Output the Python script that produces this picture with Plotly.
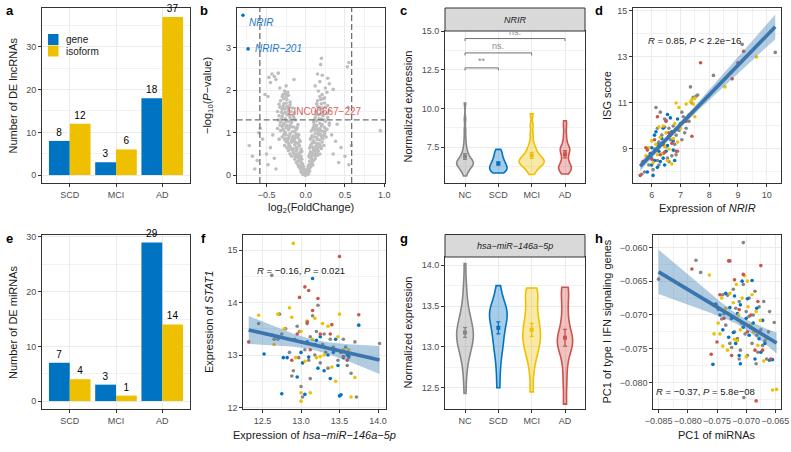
import numpy as np
import plotly.graph_objects as go

W, H = 791, 452
FONT = "Liberation Sans, Arial, Helvetica, sans-serif"

GROUPS = ['NC', 'SCD', 'MCI', 'AD']
GROUP_COLORS = ['#868686', '#0073C2', '#EFC000', '#CD534C']
GROUP_FILLS = ['rgba(134,134,134,0.35)', 'rgba(0,115,194,0.35)', 'rgba(239,192,0,0.35)', 'rgba(205,83,76,0.35)']

# ---------------- panel a / e : DE counts ----------------
STAGES = ['SCD', 'MCI', 'AD']
TYPE_NAMES = ['gene', 'isoform']
TYPE_COLORS = ['#0073C2', '#EFC000']
LNC_GENE = [8, 3, 18]
LNC_ISOFORM = [12, 6, 37]
MIR_GENE = [7, 3, 29]
MIR_ISOFORM = [4, 1, 14]

# ---------------- panel b : volcano ----------------
VOLC_POINTS = [
    (-0.06, 0.08), (-0.045, 0.05), (-0.03, 0.02), (-0.02, 0.04), (-0.01, 0.01), (0.0, 0.0), (0.01, 0.02), (0.02, 0.05),
    (0.035, 0.03), (0.05, 0.1), (-0.07, 0.15), (-0.05, 0.18), (0.04, 0.16), (0.06, 0.19), (-0.035, 0.12), (0.025, 0.12),
    (-0.015, 0.09), (0.01, 0.08),
    (-0.12, 0.3), (-0.1, 0.25), (-0.085, 0.35), (-0.07, 0.22), (-0.06, 0.3), (-0.05, 0.38), (-0.04, 0.27), (0.04, 0.25),
    (0.05, 0.33), (0.07, 0.28), (0.08, 0.38), (0.1, 0.35), (0.06, 0.22), (-0.14, 0.38), (-0.09, 0.2), (0.09, 0.24),
    (0.12, 0.39), (-0.03, 0.21),
    (-0.2, 0.5), (-0.18, 0.45), (-0.16, 0.55), (-0.14, 0.48), (-0.12, 0.58), (-0.1, 0.42), (-0.08, 0.52), (-0.06, 0.45),
    (-0.05, 0.56), (0.04, 0.44), (0.06, 0.55), (0.08, 0.47), (0.1, 0.58), (0.12, 0.45), (0.14, 0.52), (0.16, 0.57),
    (-0.22, 0.58), (0.18, 0.5), (-0.11, 0.5), (0.09, 0.52), (-0.17, 0.6), (0.07, 0.41),
    (-0.27, 0.7), (-0.24, 0.65), (-0.22, 0.75), (-0.2, 0.68), (-0.18, 0.78), (-0.16, 0.63), (-0.14, 0.72), (-0.12, 0.66),
    (-0.1, 0.76), (-0.08, 0.69), (-0.06, 0.62), (0.05, 0.64), (0.07, 0.72), (0.09, 0.66), (0.11, 0.77), (0.13, 0.69),
    (0.15, 0.62), (0.17, 0.74), (0.19, 0.67), (0.21, 0.78), (-0.25, 0.79), (0.23, 0.7), (-0.15, 0.8), (0.12, 0.61),
    (-0.3, 0.9), (-0.27, 0.84), (-0.25, 0.95), (-0.22, 0.87), (-0.2, 0.98), (-0.18, 0.82), (-0.16, 0.92), (-0.14, 0.86),
    (-0.12, 0.97), (-0.1, 0.89), (-0.08, 0.83), (0.06, 0.85), (0.08, 0.93), (0.1, 0.81), (0.12, 0.98), (0.14, 0.88),
    (0.16, 0.95), (0.18, 0.83), (0.2, 0.91), (0.22, 0.86), (0.24, 0.97), (0.26, 0.9), (-0.34, 0.85), (-0.23, 0.81),
    (-0.36, 1.1), (-0.32, 1.05), (-0.3, 1.15), (-0.27, 1.02), (-0.25, 1.12), (-0.22, 1.07), (-0.2, 1.18), (-0.17, 1.03),
    (-0.15, 1.13), (-0.12, 1.08), (-0.1, 1.19), (0.07, 1.04), (0.1, 1.14), (0.12, 1.06), (0.14, 1.17), (0.16, 1.01),
    (0.18, 1.1), (0.2, 1.16), (0.22, 1.03), (0.24, 1.12), (0.27, 1.08), (0.3, 1.18), (-0.28, 1.19),
    (-0.35, 1.3), (-0.32, 1.25), (-0.3, 1.38), (-0.28, 1.22), (-0.26, 1.33), (-0.24, 1.42), (-0.22, 1.27), (-0.2, 1.36),
    (-0.18, 1.24), (-0.16, 1.4), (-0.13, 1.3), (0.1, 1.25), (0.12, 1.35), (0.14, 1.28), (0.16, 1.42), (0.18, 1.22),
    (0.2, 1.32), (0.22, 1.4), (0.25, 1.27), (0.28, 1.36), (0.3, 1.23), (-0.23, 1.44),
    (-0.36, 1.5), (-0.33, 1.6), (-0.3, 1.55), (-0.28, 1.68), (-0.26, 1.48), (-0.24, 1.62), (-0.22, 1.52), (-0.2, 1.66),
    (-0.17, 1.58), (0.13, 1.5), (0.15, 1.62), (0.17, 1.55), (0.2, 1.68), (0.22, 1.48), (0.25, 1.6), (0.3, 1.52),
    (-0.15, 1.47),
    (-0.32, 1.75), (-0.3, 1.85), (-0.28, 1.8), (-0.26, 1.92), (-0.24, 1.78), (-0.22, 1.88), (-0.2, 1.72), (0.15, 1.75),
    (0.18, 1.85), (0.22, 1.8), (0.27, 1.95), (0.16, 1.98), (-0.27, 1.98),
    (-0.47, 2.3), (-0.43, 2.38), (-0.4, 2.32), (-0.38, 2.25), (-0.35, 2.4), (-0.45, 2.18), (-0.15, 2.25), (0.2, 2.75),
    (0.19, 2.6), (0.15, 2.38), (0.18, 2.2), (0.21, 2.35), (0.25, 2.05), (0.3, 2.15), (0.53, 2.55), (0.55, 2.65),
    (0.54, 1.6), (0.35, 2.02), (-0.33, 2.05), (-0.25, 2.1), (-0.52, 1.9), (-0.48, 1.85), (0.12, 2.1), (0.28, 2.28),
    (-0.72, 0.7), (-0.68, 0.45), (-0.62, 0.35), (-0.6, 1.0), (-0.58, 1.1), (-0.55, 0.85), (-0.5, 0.5), (-0.48, 0.25),
    (-0.45, 0.65), (-0.42, 0.95), (-0.4, 0.4), (-0.38, 0.15), (0.35, 0.5), (0.38, 0.8), (0.42, 0.3), (0.45, 0.65),
    (0.5, 0.45), (0.55, 0.25), (0.58, 0.7), (0.95, 1.05), (0.4, 1.2), (0.33, 0.95), (-0.65, 0.15),
    (-0.025, 0.15), (0.015, 0.14), (-0.055, 0.25), (0.03, 0.2), (-0.075, 0.4), (0.055, 0.42), (-0.095, 0.45),
    (0.11, 0.48), (-0.13, 0.43), (0.13, 0.55), (-0.15, 0.52), (0.15, 0.47), (-0.07, 0.55), (0.05, 0.5), (-0.1, 0.33),
    (0.08, 0.3), (-0.065, 0.18), (0.045, 0.2),
    (-0.19, 0.62), (-0.21, 0.71), (-0.23, 0.66), (-0.13, 0.77), (-0.11, 0.62), (-0.09, 0.73), (-0.07, 0.8), (0.06, 0.69),
    (0.08, 0.76), (0.1, 0.63), (0.14, 0.75), (0.16, 0.66), (0.18, 0.72), (0.2, 0.63), (-0.26, 0.86), (-0.21, 0.93),
    (-0.17, 0.88), (-0.13, 0.91), (-0.09, 0.95), (0.07, 0.88), (0.11, 0.9), (0.15, 0.84), (0.19, 0.96), (0.23, 0.93),
    (-0.28, 0.95),
    (-0.33, 1.18), (-0.29, 1.08), (-0.26, 1.0), (-0.24, 1.17), (-0.21, 1.12), (-0.18, 1.14), (-0.14, 1.02), (-0.11, 1.12),
    (0.09, 1.09), (0.11, 1.19), (0.13, 1.12), (0.15, 1.08), (0.19, 1.05), (0.21, 1.19), (0.25, 1.04), (-0.34, 1.4),
    (-0.31, 1.32), (-0.29, 1.45), (-0.25, 1.26), (-0.21, 1.41), (-0.19, 1.3), (-0.15, 1.35), (0.11, 1.3), (0.13, 1.42),
    (0.17, 1.33), (0.19, 1.44), (0.23, 1.3), (0.27, 1.45),
    (-0.34, 1.67), (-0.31, 1.48), (-0.29, 1.62), (-0.27, 1.56), (-0.25, 1.7), (-0.23, 1.58), (-0.21, 1.6), (-0.19, 1.5),
    (0.14, 1.68), (0.18, 1.6), (0.21, 1.58), (0.24, 1.7), (0.28, 1.64), (-0.29, 1.9), (-0.25, 1.85), (-0.23, 1.95),
    (0.19, 1.78), (0.21, 1.9), (0.24, 1.82),
]
VOLC_LABELLED = [(-0.80, 3.76), (-0.735, 2.97)]
VOLC_LABELS = ['NRIR', 'NRIR\u2212201']
RED_LABEL = 'LINC00667\u2212227'
RED_LABEL_POS = (0.25, 1.49)
LFC_CUT = 0.585
P_CUT = 1.301

# ---------------- panel c : NRIR violins ----------------
C_NC = [5.62, 5.85, 5.95, 6.05, 6.12, 6.2, 6.25, 6.3, 6.35, 6.38, 6.42, 6.45, 6.48, 6.5, 6.55, 6.58, 6.62, 6.68,
        6.75, 6.82, 6.9, 7.0, 7.1, 7.25, 7.45, 7.7, 8.1, 8.6, 9.3, 10.35]
C_SCD = [5.82, 5.86, 5.9, 5.95, 6.0, 6.02, 6.05, 6.1, 6.12, 6.18, 6.22, 6.28, 6.32, 6.38, 6.42, 6.48, 6.55, 6.6,
         6.68, 6.75, 6.85, 6.95, 7.05, 7.15, 7.25, 7.35]
C_MCI = [5.72, 5.95, 6.1, 6.2, 6.3, 6.35, 6.42, 6.48, 6.52, 6.58, 6.62, 6.68, 6.72, 6.8, 6.88, 6.95, 7.05, 7.2,
         7.35, 7.5, 7.8, 8.3, 8.9, 9.65]
C_AD = [5.75, 5.9, 6.0, 6.1, 6.18, 6.25, 6.35, 6.5, 6.7, 6.9, 7.1, 7.25, 7.35, 7.45, 7.6, 7.9, 8.3, 8.8, 9.2]
C_WIDTHS = [0.5, 0.52, 0.75, 0.38]
BRACKET_PAIRS = [('NC', 'SCD'), ('NC', 'MCI'), ('NC', 'AD')]
BRACKET_Y = [12.63, 13.6, 14.53]
BRACKET_TEXT = ['**', 'ns.', 'ns.']

# ---------------- panel g : miR-146a violins ----------------
G_NC = [12.43, 12.6, 12.72, 12.8, 12.86, 12.9, 12.95, 12.98, 13.0, 13.03, 13.05, 13.08, 13.1, 13.12, 13.14, 13.16,
        13.18, 13.2, 13.22, 13.25, 13.27, 13.3, 13.33, 13.36, 13.4, 13.45, 13.5, 13.58, 13.68, 13.8, 14.02]
G_SCD = [12.5, 12.7, 12.85, 12.95, 13.02, 13.08, 13.15, 13.2, 13.25, 13.3, 13.34, 13.38, 13.4, 13.43, 13.46, 13.5,
         13.55, 13.62, 13.75]
G_MCI = [12.45, 12.7, 12.85, 12.92, 12.98, 13.03, 13.08, 13.12, 13.16, 13.2, 13.25, 13.3, 13.36, 13.42, 13.5,
         13.58, 13.65, 13.7, 13.72]
G_AD = [12.3, 12.55, 12.75, 12.9, 12.98, 13.02, 13.06, 13.1, 13.14, 13.2, 13.3, 13.42, 13.55, 13.68, 13.73]
G_WIDTHS = [0.5, 0.53, 0.53, 0.46]

# ---------------- panel d : NRIR vs ISG score ----------------
D_NC = [(5.65, 7.9), (5.75, 8.0), (5.9, 8.3), (6.0, 8.6), (6.05, 8.1), (6.1, 9.0), (6.15, 10.8), (6.2, 8.5),
        (6.25, 9.3), (6.3, 10.6), (6.35, 9.6), (6.4, 8.8), (6.45, 10.3), (6.5, 9.1), (6.5, 10.25), (6.55, 8.6),
        (6.6, 9.9), (6.65, 9.4), (6.7, 8.7), (6.75, 10.0), (6.8, 9.2), (6.85, 9.6), (6.9, 8.9), (6.95, 9.8),
        (7.0, 10.1), (7.05, 9.4), (7.1, 10.4), (7.15, 9.7), (7.2, 9.9), (7.3, 10.2), (7.35, 11.7), (7.4, 11.0),
        (7.45, 11.25), (7.55, 11.3), (7.6, 11.35), (8.15, 12.2), (9.15, 13.55), (10.3, 13.2), (6.25, 8.3),
        (6.6, 8.45), (6.85, 8.75), (6.35, 9.25), (7.05, 10.6), (6.2, 9.9), (6.45, 9.95)]
D_SCD = [(5.95, 8.8), (6.0, 8.3), (6.05, 7.85), (6.1, 8.5), (6.1, 9.6), (6.15, 9.75), (6.2, 9.2), (6.25, 8.9),
         (6.3, 8.45), (6.35, 9.45), (6.4, 8.6), (6.45, 8.3), (6.55, 10.5), (6.55, 9.15), (6.6, 9.55), (6.65, 10.35),
         (6.7, 9.75), (6.75, 8.95), (6.8, 8.5), (6.85, 9.85), (6.9, 10.3), (6.0, 9.05), (6.2, 8.2), (6.4, 9.9),
         (5.85, 8.0), (6.5, 8.9), (6.75, 9.35)]
D_MCI = [(5.8, 8.7), (5.9, 9.05), (6.0, 9.35), (6.05, 8.4), (6.15, 9.2), (6.2, 8.75), (6.3, 9.5), (6.35, 8.8),
         (6.4, 10.0), (6.45, 9.1), (6.5, 9.7), (6.55, 8.5), (6.6, 9.0), (6.65, 9.6), (6.7, 8.35), (6.75, 9.45),
         (6.8, 10.1), (6.9, 9.3), (7.0, 9.9), (7.2, 10.95), (7.3, 10.5), (7.4, 11.15), (7.45, 10.95), (7.5, 11.2),
         (7.35, 11.05), (7.5, 10.4), (8.55, 11.7), (9.65, 13.0), (6.85, 11.0), (6.95, 10.8), (6.25, 9.95)]
D_AD = [(5.6, 7.85), (5.7, 8.45), (5.85, 8.95), (6.0, 8.55), (6.1, 9.4), (6.2, 10.4), (6.3, 8.75), (6.4, 9.2),
        (6.5, 10.2), (6.6, 9.7), (6.7, 9.25), (6.85, 8.9), (7.2, 10.2), (7.4, 9.55), (7.7, 12.75), (8.8, 12.05),
        (9.0, 12.75), (9.2, 13.25), (5.8, 9.05), (6.45, 8.85)]

# ---------------- panel f : miR-146a vs STAT1 ----------------
F_NC = [(12.45, 13.6), (12.62, 14.52), (12.65, 13.3), (12.68, 13.35), (12.7, 13.3), (12.72, 13.78), (12.75, 13.4),
        (12.8, 13.5), (12.85, 13.05), (12.88, 12.6), (12.9, 12.7), (12.92, 13.3), (12.95, 13.55), (12.97, 12.95),
        (13.0, 13.25), (13.0, 12.4), (13.02, 12.2), (13.05, 13.1), (13.08, 13.6), (13.1, 12.9), (13.12, 13.35),
        (13.15, 13.75), (13.18, 13.0), (13.2, 13.45), (13.22, 13.95), (13.25, 12.85), (13.28, 13.2), (13.3, 13.4),
        (13.32, 13.05), (13.35, 12.75), (13.38, 13.3), (13.42, 13.15), (13.45, 13.1), (13.48, 12.9), (13.52, 13.05),
        (13.55, 13.3), (13.58, 13.15), (13.6, 12.8), (13.62, 12.95), (13.65, 12.65), (13.7, 13.25), (13.72, 12.2),
        (14.02, 13.22), (12.55, 13.4), (12.98, 13.45), (13.12, 12.55)]
F_SCD = [(12.52, 13.02), (12.62, 13.38), (12.75, 12.26), (12.77, 12.95), (12.82, 12.95), (12.95, 12.58),
         (13.0, 13.05), (13.02, 12.85), (13.05, 12.25), (13.08, 13.25), (13.15, 14.46), (13.18, 13.2), (13.2, 13.28),
         (13.22, 12.75), (13.25, 13.35), (13.3, 12.7), (13.35, 13.0), (13.38, 12.55), (13.42, 13.05), (13.45, 13.3),
         (13.5, 12.22), (13.52, 12.24), (13.55, 12.95), (13.6, 13.0), (13.62, 12.98), (13.75, 13.57), (13.48, 12.8),
         (13.1, 12.96)]
F_MCI = [(12.45, 13.76), (12.65, 13.2), (12.7, 13.78), (12.78, 13.5), (12.85, 13.9), (12.88, 13.72), (12.9, 15.13),
         (12.93, 12.95), (13.0, 12.28), (13.0, 12.12), (13.05, 12.88), (13.08, 13.65), (13.12, 12.28), (13.15, 13.3),
         (13.18, 13.7), (13.2, 12.95), (13.25, 12.97), (13.3, 13.0), (13.35, 13.55), (13.4, 12.77), (13.45, 12.5),
         (13.48, 13.35), (13.5, 13.78), (13.55, 13.1), (13.62, 13.1), (13.65, 12.2), (13.7, 12.57), (13.0, 13.45),
         (13.28, 13.6)]
F_AD = [(12.32, 13.25), (12.88, 12.9), (12.98, 14.1), (13.05, 14.3), (13.08, 13.63), (13.1, 14.23), (13.12, 13.1),
        (13.15, 13.85), (13.22, 14.08), (13.25, 13.4), (13.3, 13.15), (13.38, 13.4), (13.5, 14.88), (13.55, 12.97),
        (13.6, 12.9), (13.75, 13.77), (12.95, 13.4), (13.4, 13.58)]

# ---------------- panel h : PC1 miRNAs vs PC1 IFN genes ----------------
H_NC = [(-0.0850, -0.0647), (-0.0786, -0.0619), (-0.0778, -0.0637), (-0.0750, -0.0688), (-0.0748, -0.0692),
        (-0.0742, -0.0706), (-0.0738, -0.0698), (-0.0735, -0.0715), (-0.0732, -0.0671), (-0.0728, -0.0742),
        (-0.0725, -0.0705), (-0.0722, -0.0662), (-0.0720, -0.0725), (-0.0718, -0.0690), (-0.0715, -0.0735),
        (-0.0712, -0.0680), (-0.0710, -0.0752), (-0.0708, -0.0712), (-0.0705, -0.0593), (-0.0705, -0.0655),
        (-0.0704, -0.0822), (-0.0702, -0.0728), (-0.0700, -0.0695), (-0.0698, -0.0760), (-0.0695, -0.0675),
        (-0.0692, -0.0718), (-0.0690, -0.0742), (-0.0688, -0.0700), (-0.0685, -0.0665), (-0.0682, -0.0730),
        (-0.0680, -0.0755), (-0.0678, -0.0688), (-0.0675, -0.0722), (-0.0672, -0.0745), (-0.0670, -0.0680),
        (-0.0668, -0.0738), (-0.0665, -0.0765), (-0.0662, -0.0725), (-0.0660, -0.0695), (-0.0652, -0.0711),
        (-0.0695, -0.0702), (-0.0712, -0.0765), (-0.0725, -0.0748), (-0.0740, -0.0670), (-0.0683, -0.0772)]
H_SCD = [(-0.0757, -0.0773), (-0.0752, -0.0684), (-0.0745, -0.0700), (-0.0740, -0.0722), (-0.0735, -0.0668),
         (-0.0730, -0.0733), (-0.0728, -0.0689), (-0.0725, -0.0705), (-0.0720, -0.0672), (-0.0718, -0.0742),
         (-0.0715, -0.0698), (-0.0712, -0.0760), (-0.0710, -0.0685), (-0.0707, -0.0650), (-0.0705, -0.0718),
         (-0.0700, -0.0705), (-0.0698, -0.0676), (-0.0695, -0.0730), (-0.0690, -0.0649), (-0.0688, -0.0712),
         (-0.0685, -0.0765), (-0.0682, -0.0690), (-0.0678, -0.0735), (-0.0675, -0.0755), (-0.0672, -0.0708),
         (-0.0668, -0.0742), (-0.0660, -0.0767), (-0.0655, -0.0766), (-0.0710, -0.0772), (-0.0722, -0.0726)]
H_MCI = [(-0.0763, -0.0641), (-0.0755, -0.0728), (-0.0748, -0.0712), (-0.0742, -0.0675), (-0.0740, -0.0746),
         (-0.0735, -0.0690), (-0.0732, -0.0752), (-0.0728, -0.0668), (-0.0722, -0.0682), (-0.0720, -0.0736),
         (-0.0717, -0.0655), (-0.0713, -0.0700), (-0.0710, -0.0722), (-0.0707, -0.0675), (-0.0703, -0.0642),
         (-0.0700, -0.0762), (-0.0697, -0.0688), (-0.0693, -0.0715), (-0.0690, -0.0670), (-0.0687, -0.0725),
         (-0.0683, -0.0695), (-0.0680, -0.0745), (-0.0676, -0.0708), (-0.0670, -0.0768), (-0.0665, -0.0735),
         (-0.0655, -0.0811), (-0.0648, -0.0810), (-0.0745, -0.0728), (-0.0715, -0.0738), (-0.0698, -0.0650)]
H_AD = [(-0.0793, -0.0632), (-0.0760, -0.0758), (-0.0750, -0.0740), (-0.0745, -0.0670), (-0.0738, -0.0705),
        (-0.0730, -0.0620), (-0.0725, -0.0760), (-0.0720, -0.0648), (-0.0712, -0.0692), (-0.0705, -0.0640),
        (-0.0698, -0.0725), (-0.0692, -0.0700), (-0.0685, -0.0752), (-0.0683, -0.0827), (-0.0680, -0.0680),
        (-0.0675, -0.0627), (-0.0672, -0.0752), (-0.0665, -0.0733), (-0.0658, -0.0765), (-0.0728, -0.0620)]

STAT_TEXT_D = '<i>R</i> = 0.85, <i>P</i> < 2.2e\u221216'
STAT_TEXT_F = '<i>R</i> = \u22120.16, <i>P</i> = 0.021'
STAT_TEXT_H = '<i>R</i> = \u22120.37, <i>P</i> = 5.8e\u221208'

# =====================================================================
fig = go.Figure()


def ax(i, kind):
    return kind if i == 1 else f'{kind}{i}'


def unzip(pts):
    return [p[0] for p in pts], [p[1] for p in pts]


def smooth(xs, ys):
    x = np.asarray(xs, float)
    y = np.asarray(ys, float)
    n = len(x)
    b1, b0 = np.polyfit(x, y, 1)
    grid = np.linspace(x.min(), x.max(), 80)
    fit = b0 + b1 * grid
    res = y - (b0 + b1 * x)
    s = np.sqrt((res ** 2).sum() / (n - 2))
    sxx = ((x - x.mean()) ** 2).sum()
    se = s * np.sqrt(1.0 / n + (grid - x.mean()) ** 2 / sxx)
    return grid, fit, fit - 1.97 * se, fit + 1.97 * se


# ---- bars (a, e)
for i, (gvals, ivals) in zip([1, 5], [(LNC_GENE, LNC_ISOFORM), (MIR_GENE, MIR_ISOFORM)]):
    for name, vals, col in zip(TYPE_NAMES, [gvals, ivals], TYPE_COLORS):
        fig.add_trace(go.Bar(x=STAGES, y=vals, name=name, marker=dict(color=col, line=dict(width=0)),
                             text=[str(v) for v in vals], textposition='outside', constraintext='none',
                             textfont=dict(family=FONT, size=10, color='black'), cliponaxis=False,
                             offsetgroup=name, showlegend=False,
                             xaxis=ax(i, 'x'), yaxis=ax(i, 'y'), hoverinfo='skip'))

# ---- volcano (b)
vx, vy = unzip(VOLC_POINTS)
fig.add_trace(go.Scatter(x=vx, y=vy, mode='markers', marker=dict(size=3.6, color='#BEBEBE'),
                         xaxis='x2', yaxis='y2', showlegend=False, hoverinfo='skip'))
lx, ly = unzip(VOLC_LABELLED)
fig.add_trace(go.Scatter(x=lx, y=ly, mode='markers', marker=dict(size=3.6, color='#0073C2'),
                         xaxis='x2', yaxis='y2', showlegend=False, hoverinfo='skip'))

# ---- violins (c, g)
for i, sets, widths, bw in [(3, [C_NC, C_SCD, C_MCI, C_AD], C_WIDTHS, 0.22),
                            (7, [G_NC, G_SCD, G_MCI, G_AD], G_WIDTHS, 0.11)]:
    for g, vals, col, fill, wd in zip(GROUPS, sets, GROUP_COLORS, GROUP_FILLS, widths):
        fig.add_trace(go.Violin(x=[g] * len(vals), y=vals, name=g, line=dict(color=col, width=1.6),
                                fillcolor=fill, points=False, spanmode='hard', width=wd, bandwidth=bw,
                                box_visible=False, meanline_visible=False, showlegend=False,
                                xaxis=ax(i, 'x'), yaxis=ax(i, 'y'), hoverinfo='skip'))
    for g, vals, col in zip(GROUPS, sets, GROUP_COLORS):
        arr = np.asarray(vals, float)
        m = arr.mean()
        se = arr.std(ddof=1) / np.sqrt(len(arr))
        fig.add_trace(go.Scatter(x=[g], y=[m], mode='markers',
                                 marker=dict(symbol='square', size=4, color=col),
                                 error_y=dict(type='data', array=[se], color=col, thickness=1.3, width=2),
                                 xaxis=ax(i, 'x'), yaxis=ax(i, 'y'), showlegend=False, hoverinfo='skip'))

# brackets in c
for (g1, g2), yv, txt in zip(BRACKET_PAIRS, BRACKET_Y, BRACKET_TEXT):
    fig.add_trace(go.Scatter(x=[g1, g1, g2, g2], y=[yv - 0.16, yv, yv, yv - 0.16], mode='lines',
                             line=dict(color='#707070', width=1), xaxis='x3', yaxis='y3',
                             showlegend=False, hoverinfo='skip', cliponaxis=False))
    fig.add_annotation(x=(GROUPS.index(g1) + GROUPS.index(g2)) / 2, y=yv, xref='x3', yref='y3',
                       text=txt, showarrow=False, xanchor='center', yanchor='bottom', yshift=0,
                       font=dict(family=FONT, size=9, color='#8A8A8A'))

# ---- scatter panels (d, f, h)
for i, sets in [(4, [D_NC, D_SCD, D_MCI, D_AD]), (6, [F_NC, F_SCD, F_MCI, F_AD]),
                (8, [H_NC, H_SCD, H_MCI, H_AD])]:
    allx, ally = [], []
    for pts, col in zip(sets, GROUP_COLORS):
        px_, py_ = unzip(pts)
        allx += px_
        ally += py_
        fig.add_trace(go.Scatter(x=px_, y=py_, mode='markers', marker=dict(size=3.6, color=col),
                                 xaxis=ax(i, 'x'), yaxis=ax(i, 'y'), showlegend=False, hoverinfo='skip'))
    gx, fit, lo, hi = smooth(allx, ally)
    fig.add_trace(go.Scatter(x=gx, y=lo, mode='lines', line=dict(width=0), xaxis=ax(i, 'x'),
                             yaxis=ax(i, 'y'), showlegend=False, hoverinfo='skip'))
    fig.add_trace(go.Scatter(x=gx, y=hi, mode='lines', line=dict(width=0), fill='tonexty',
                             fillcolor='rgba(70,130,180,0.42)', xaxis=ax(i, 'x'), yaxis=ax(i, 'y'),
                             showlegend=False, hoverinfo='skip'))
    fig.add_trace(go.Scatter(x=gx, y=fit, mode='lines', line=dict(width=3.6, color='#3A75AE'),
                             xaxis=ax(i, 'x'), yaxis=ax(i, 'y'), showlegend=False, hoverinfo='skip'))

# =====================================================================
PANELS = {
    1: ((42, 190), (8, 183)),
    2: ((236.7, 385), (8, 183)),
    3: ((445, 585), (31, 183)),
    4: ((633, 781), (8, 183)),
    5: ((42, 190), (234.5, 409)),
    6: ((243.3, 385.7), (234.5, 409)),
    7: ((445, 585), (257, 409)),
    8: ((653.3, 780.7), (234.5, 409)),
}

BASE = dict(showline=True, mirror=True, linecolor='#333333', linewidth=1, ticks='outside', ticklen=3,
            tickwidth=1, tickcolor='#333333', tickfont=dict(family=FONT, size=9, color='#4D4D4D'),
            showgrid=True, gridcolor='#EBEBEB', gridwidth=1, zeroline=False, layer='below traces',
            automargin=False, tickangle=0, ticklabeloverflow='allow')


def lin(rng, tick0, dtick, fmt=None):
    d = dict(BASE, type='linear', range=rng, tick0=tick0, dtick=dtick,
             minor=dict(tick0=tick0, dtick=dtick / 2, showgrid=True, gridcolor='#F2F2F2', gridwidth=0.6, ticks=''))
    if fmt:
        d['tickformat'] = fmt
    return d


def cat(cats):
    return dict(BASE, type='category', categoryorder='array', categoryarray=cats,
                range=[-0.6, len(cats) - 0.4])


AXES = {
    1: (cat(STAGES), lin([-1.85, 39.1], 0, 10)),
    2: (lin([-0.88, 1.01], 0, 0.5, '.1f'), lin([-0.18, 3.93], 0, 1)),
    3: (cat(GROUPS), lin([5.17, 15.02], 0, 2.5, '.1f')),
    4: (lin([5.35, 10.5], 0, 1), lin([7.52, 15.13], 1, 2)),
    5: (cat(STAGES), lin([-1.45, 30.45], 0, 10)),
    6: (lin([12.25, 14.1], 0, 0.5, '.1f'), lin([11.97, 15.3], 0, 1)),
    7: (cat(GROUPS), lin([12.24, 14.1], 0, 0.5, '.1f')),
    8: (lin([-0.0859, -0.0641], -0.085, 0.005, '.3f'), lin([-0.0839, -0.0581], -0.08, 0.005, '.3f')),
}

layout = dict(width=W, height=H, margin=dict(l=0, r=0, t=0, b=0, autoexpand=False), paper_bgcolor='white',
              plot_bgcolor='white', font=dict(family=FONT, color='#1A1A1A'),
              barmode='group', bargap=0.1, bargroupgap=0, violinmode='overlay', showlegend=False)
for i, (xa, ya) in AXES.items():
    (x0, x1), (t, b) = PANELS[i]
    xa = dict(xa, domain=[x0 / W, x1 / W], anchor=ax(i, 'y'))
    ya = dict(ya, domain=[1 - b / H, 1 - t / H], anchor=ax(i, 'x'))
    layout['xaxis' if i == 1 else f'xaxis{i}'] = xa
    layout['yaxis' if i == 1 else f'yaxis{i}'] = ya
fig.update_layout(**layout)


def px2paper(px_, py_):
    return px_ / W, 1 - py_ / H


# legend of panel a (keys + labels)
for k, (name, col) in enumerate(zip(TYPE_NAMES, TYPE_COLORS)):
    top = 34 + 11.5 * k
    fig.add_shape(type='rect', xref='paper', yref='paper', x0=48 / W, x1=58.5 / W,
                  y0=1 - (top + 11) / H, y1=1 - top / H, fillcolor=col, line=dict(width=0))
    xx, yy = px2paper(64, top + 5.5)
    fig.add_annotation(x=xx, y=yy, xref='paper', yref='paper', text=name, showarrow=False,
                       xanchor='left', yanchor='middle', font=dict(family=FONT, size=10, color='#1A1A1A'))

# volcano threshold lines
for xv in (-LFC_CUT, LFC_CUT):
    fig.add_shape(type='line', xref='x2', yref='y2 domain', x0=xv, x1=xv, y0=0, y1=1,
                  line=dict(color='#707070', width=1.3, dash='6px,3px'))
fig.add_shape(type='line', xref='x2 domain', yref='y2', x0=0, x1=1, y0=P_CUT, y1=P_CUT,
              line=dict(color='#707070', width=1.3, dash='6px,3px'))
for (xv, yv), lab in zip(VOLC_LABELLED, VOLC_LABELS):
    fig.add_annotation(x=xv, y=yv, xref='x2', yref='y2', text=f'<i>{lab}</i>', showarrow=False,
                       xanchor='left', yanchor='middle', xshift=4 if lab == 'NRIR' else 5,
                       yshift=-7 if lab == 'NRIR' else 0,
                       font=dict(family=FONT, size=10, color='#1F78C8'))
fig.add_annotation(x=RED_LABEL_POS[0], y=RED_LABEL_POS[1], xref='x2', yref='y2', text=RED_LABEL,
                   showarrow=False, xanchor='center', yanchor='middle',
                   font=dict(family=FONT, size=10, color='#E0605A'))

# strips
for (x0, x1), (t, b), lab in [((445, 585), (8, 31), 'NRIR'),
                              ((445, 585), (234.5, 257), 'hsa\u2212miR\u2212146a\u22125p')]:
    fig.add_shape(type='rect', xref='paper', yref='paper', x0=x0 / W, x1=x1 / W, y0=1 - b / H, y1=1 - t / H,
                  fillcolor='#D9D9D9', line=dict(color='#333333', width=1), layer='above')
    xx, yy = px2paper((x0 + x1) / 2, (t + b) / 2)
    fig.add_annotation(x=xx, y=yy, xref='paper', yref='paper', xanchor='center', yanchor='middle',
                       text=f'<i>{lab}</i>', showarrow=False, font=dict(family=FONT, size=9, color='#1A1A1A'))

# stat texts
for txt, (px_, py_) in [(STAT_TEXT_D, (694, 41)), (STAT_TEXT_F, (301, 270)), (STAT_TEXT_H, (705, 391))]:
    xx, yy = px2paper(px_, py_)
    fig.add_annotation(x=xx, y=yy, xref='paper', yref='paper', text=txt, showarrow=False,
                       xanchor='center', yanchor='middle', font=dict(family=FONT, size=9.5, color='#1A1A1A'))

# axis titles
TITLE_FONT = dict(family=FONT, size=11, color='#1A1A1A')
Y_TITLES = [('Number of DE lncRNAs', 13, 95.5), ('\u2212log<sub>10</sub>(<i>P</i>\u2212value)', 208.5, 95.5),
            ('Normalized expression', 407.5, 107), ('ISG score', 607.5, 95.5),
            ('Number of DE miRNAs', 13, 322), ('Expression of <i>STAT1</i>', 209, 322),
            ('Normalized expression', 407.5, 333), ('PC1 of type I IFN signaling genes', 606.5, 322)]
for txt, px_, py_ in Y_TITLES:
    xx, yy = px2paper(px_, py_)
    fig.add_annotation(x=xx, y=yy, xref='paper', yref='paper', text=txt, showarrow=False,
                       xanchor='center', yanchor='middle', textangle=-90, font=TITLE_FONT)
X_TITLES = [('log<sub>2</sub>(FoldChange)', 311, 208), ('Expression of <i>NRIR</i>', 707, 208),
            ('Expression of <i>hsa\u2212miR\u2212146a\u22125p</i>', 314.5, 434.5), ('PC1 of miRNAs', 717, 434.5)]
for txt, px_, py_ in X_TITLES:
    xx, yy = px2paper(px_, py_)
    fig.add_annotation(x=xx, y=yy, xref='paper', yref='paper', text=txt, showarrow=False,
                       xanchor='center', yanchor='middle', font=TITLE_FONT)

# panel letters
for lab, px_, py_ in [('a', 4, 11), ('b', 198, 11), ('c', 398, 11), ('d', 593, 11),
                      ('e', 4, 238), ('f', 199, 238), ('g', 398, 238), ('h', 593, 238)]:
    xx, yy = px2paper(px_, py_)
    fig.add_annotation(x=xx, y=yy, xref='paper', yref='paper', text=f'<b>{lab}</b>',
                       showarrow=False, xanchor='left', yanchor='middle',
                       font=dict(family=FONT, size=13, color='black'))

fig.write_html("out.html", config={'displayModeBar': False},
               post_script="document.body.style.margin='0px';")
